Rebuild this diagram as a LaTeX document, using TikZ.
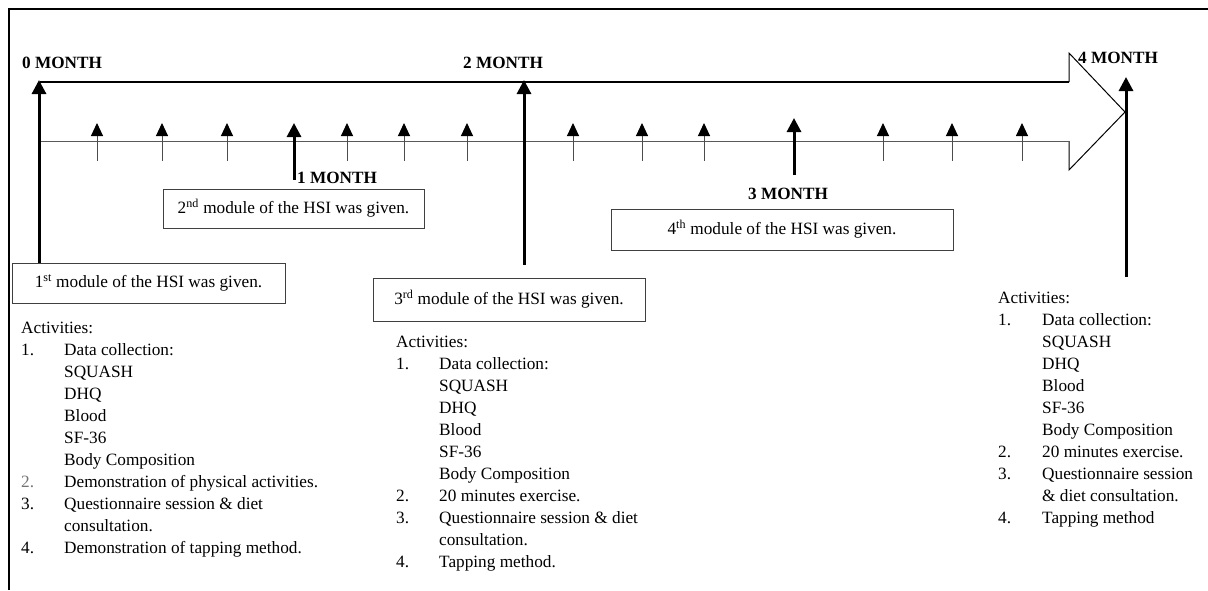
\documentclass[tikz,border=0pt]{standalone}
\usepackage{fontspec}
\setmainfont{Liberation Serif}
\usetikzlibrary{arrows.meta}
\begin{document}
\begin{tikzpicture}[x=1pt,y=-1pt,
  thickarrow/.style={line width=3pt,-{Triangle[width=14pt,length=14pt]}},
  thinarrow/.style={line width=1pt,black!70,-{Triangle[width=12pt,length=13pt,color=black]}},
  monthlabel/.style={font=\fontsize{17.2}{22}\selectfont\bfseries,inner sep=0pt,anchor=base west},
  modbox/.style={draw=black!75,line width=0.9pt,font=\fontsize{17.25}{22}\selectfont,inner sep=0pt},
  actlist/.style={font=\fontsize{17.25}{22}\selectfont,inner sep=0pt,anchor=base west}
]
\useasboundingbox (0,0) rectangle (1208,590);
% frame
\coordinate (fbl) at (9,590);
\coordinate (ftl) at (9,9);
\coordinate (ftr) at (1208,9);
\draw[line width=2pt] (fbl) -- (ftl) -- (ftr);

% block arrow
\coordinate (ba1) at (40,82);
\coordinate (ba2) at (1069,82);
\coordinate (ba3) at (1069,53);
\coordinate (batip) at (1125,112);
\coordinate (ba5) at (1069,170);
\coordinate (ba6) at (1069,141);
\coordinate (ba7) at (40,141);
\draw[line width=1.6pt] (ba1) -- (ba2);
\draw[line width=1pt,line join=miter] (ba2) -- (ba3) -- (batip) -- (ba5) -- (ba6);
\draw[line width=1pt,black!65] (ba6) -- (ba7);

% small arrows
\foreach \x [count=\i] in {97,162,227,347,404,467,573,642,704,883,952,1022}{
  \coordinate (s\i b) at (\x,161);
  \coordinate (s\i t) at (\x,123);
  \draw[thinarrow] (s\i b) -- (s\i t);
}

% boxes
\node[modbox,minimum width=273pt,minimum height=40pt] (box1) at (148.5,283) {1\textsuperscript{st} module of the HSI was given.};
\node[modbox,minimum width=261pt,minimum height=39pt] (box2) at (293.5,208.5) {2\textsuperscript{nd} module of the HSI was given.};
\node[modbox,minimum width=272pt,minimum height=43pt] (box3) at (509,299.5) {3\textsuperscript{rd} module of the HSI was given.};
\node[modbox,minimum width=342pt,minimum height=41pt] (box4) at (782,229.5) {4\textsuperscript{th} module of the HSI was given.};

% month arrows
\coordinate (m0b) at (39,263);
\coordinate (m0t) at (39,80);
\draw[thickarrow] (m0b) -- (m0t);
\coordinate (m1b) at (294,180);
\coordinate (m1t) at (294,123);
\draw[thickarrow] (m1b) -- (m1t);
\coordinate (m2b) at (524,265);
\coordinate (m2t) at (524,80);
\draw[thickarrow] (m2b) -- (m2t);
\coordinate (m3b) at (794,175);
\coordinate (m3t) at (794,118);
\draw[thickarrow] (m3b) -- (m3t);
\coordinate (m4b) at (1126,277);
\coordinate (m4t) at (1126,77);
\draw[thickarrow] (m4b) -- (m4t);

% month labels
\node[monthlabel] (l0) at (22,68) {0 MONTH};
\node[monthlabel] (l1) at (297,183) {1 MONTH};
\node[monthlabel] (l2) at (463,68) {2 MONTH};
\node[monthlabel] (l3) at (748,199) {3 MONTH};
\node[monthlabel] (l4) at (1078,63) {4 MONTH};

% activity lists
\node[actlist] (actA) at (21,333) {\begin{tabular}[t]{@{}p{43pt}@{}l@{}}
\multicolumn{2}{@{}l@{}}{Activities:}\\
1. & Data collection:\\
 & SQUASH\\
 & DHQ\\
 & Blood\\
 & SF-36\\
 & Body Composition\\
\textcolor{black!55}{2.} & Demonstration of physical activities.\\
3. & Questionnaire session \& diet\\
 & consultation.\\
4. & Demonstration of tapping method.
\end{tabular}};

\node[actlist] (actB) at (396,347) {\begin{tabular}[t]{@{}p{43pt}@{}l@{}}
\multicolumn{2}{@{}l@{}}{Activities:}\\
1. & Data collection:\\
 & SQUASH\\
 & DHQ\\
 & Blood\\
 & SF-36\\
 & Body Composition\\
2. & 20 minutes exercise.\\
3. & Questionnaire session \& diet\\
 & consultation.\\
4. & Tapping method.
\end{tabular}};

\node[actlist] (actC) at (998,303) {\begin{tabular}[t]{@{}p{44pt}@{}l@{}}
\multicolumn{2}{@{}l@{}}{Activities:}\\
1. & Data collection:\\
 & SQUASH\\
 & DHQ\\
 & Blood\\
 & SF-36\\
 & Body Composition\\
2. & 20 minutes exercise.\\
3. & Questionnaire session\\
 & \& diet consultation.\\
4. & Tapping method
\end{tabular}};
\end{tikzpicture}
\end{document}
